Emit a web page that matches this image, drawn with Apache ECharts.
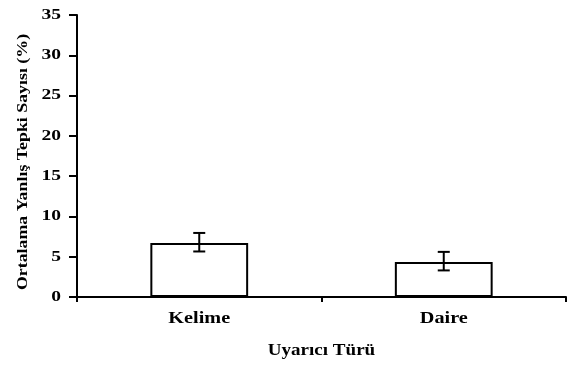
<!DOCTYPE html>
<html>
<head>
<meta charset="utf-8">
<script src="https://cdn.jsdelivr.net/npm/echarts@6/dist/echarts.min.js"></script>
<style>
html,body{margin:0;padding:0;background:#fff;}
#chart{width:577px;height:367px;}
</style>
</head>
<body>
<div id="chart"></div>
<script>
const categories = ['Kelime', 'Daire'];
const meanValues = [6.7, 4.35];
const errLow = [5.65, 3.3];
const errHigh = [7.95, 5.6];
const yTicks = [0, 5, 10, 15, 20, 25, 30, 35];
const xAxisTitle = 'Uyarıcı Türü';
const yAxisTitle = 'Ortalama Yanlış Tepki Sayısı (%)';

// the reference's serif text is horizontally widened; reproduce at draw time
const origFill = CanvasRenderingContext2D.prototype.fillText;
CanvasRenderingContext2D.prototype.fillText = function (text, x, y, mw) {
  let sx = 1.3;
  if (text === yAxisTitle || text === xAxisTitle || categories.includes(text)) sx = 1.19;
  this.save();
  this.translate(x, y);
  this.scale(sx, 1);
  origFill.call(this, text, 0, 0);
  this.restore();
};

const FONT = '"Liberation Serif", "Times New Roman", serif';
const chart = echarts.init(document.getElementById('chart'), null, {renderer: 'canvas'});
chart.setOption({
  animation: false,
  backgroundColor: '#fff',
  grid: {left: 77, right: 11, top: 15, bottom: 70, containLabel: false},
  xAxis: {
    type: 'category',
    data: categories,
    name: xAxisTitle,
    nameLocation: 'middle',
    nameGap: 46,
    nameTextStyle: {fontFamily: FONT, fontWeight: 'bold', fontSize: 16, color: '#000'},
    axisLine: {lineStyle: {color: '#000', width: 2}},
    axisTick: {show: true, length: 5, alignWithLabel: false, lineStyle: {color: '#000', width: 2}},
    axisLabel: {fontFamily: FONT, fontWeight: 'bold', fontSize: 17, color: '#000', margin: 13}
  },
  yAxis: {
    type: 'value',
    min: yTicks[0],
    max: yTicks[yTicks.length - 1],
    interval: yTicks[1] - yTicks[0],
    name: yAxisTitle,
    nameLocation: 'middle',
    nameGap: 46,
    nameTextStyle: {fontFamily: FONT, fontWeight: 'bold', fontSize: 15, color: '#000', padding: [0, 12, 0, 0]},
    axisLine: {show: true, lineStyle: {color: '#000', width: 2}},
    axisTick: {show: true, length: 8, lineStyle: {color: '#000', width: 2}},
    axisLabel: {fontFamily: FONT, fontWeight: 'bold', fontSize: 15, color: '#000', margin: 16},
    splitLine: {show: false}
  },
  series: [
    {
      type: 'bar',
      data: meanValues,
      barWidth: '40%',
      itemStyle: {color: '#fff', borderColor: '#000', borderWidth: 2}
    },
    {
      type: 'custom',
      data: categories.map((c, i) => [i, errLow[i], errHigh[i]]),
      renderItem: function (params, api) {
        const lo = api.coord([api.value(0), api.value(1)]);
        const hi = api.coord([api.value(0), api.value(2)]);
        const hw = 6;
        const st = {stroke: '#000', lineWidth: 2};
        return {
          type: 'group',
          children: [
            {type: 'line', shape: {x1: lo[0], y1: lo[1], x2: hi[0], y2: hi[1]}, style: st},
            {type: 'line', shape: {x1: lo[0] - hw, y1: lo[1], x2: lo[0] + hw, y2: lo[1]}, style: st},
            {type: 'line', shape: {x1: hi[0] - hw, y1: hi[1], x2: hi[0] + hw, y2: hi[1]}, style: st}
          ]
        };
      },
      z: 5
    }
  ]
});
</script>
</body>
</html>
